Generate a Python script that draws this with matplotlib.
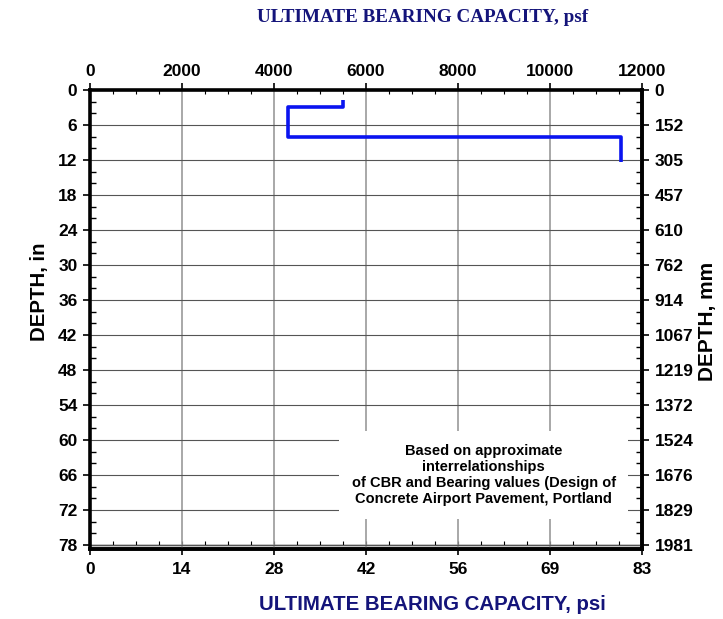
import matplotlib

matplotlib.use("Agg")
import matplotlib.pyplot as plt
from matplotlib.ticker import FixedLocator, MultipleLocator

# Bearing capacity profile (psf) vs depth (in)
depth_in = [1.7, 3.0, 3.0, 8.0, 8.0, 12.3]
capacity_psf = [5500, 5500, 4300, 4300, 11550, 11550]

psf_ticks = [0, 2000, 4000, 6000, 8000, 10000, 12000]
psi_labels = ["0", "14", "28", "42", "56", "69", "83"]
depth_ticks = [0, 6, 12, 18, 24, 30, 36, 42, 48, 54, 60, 66, 72, 78]
mm_labels = ["0", "152", "305", "457", "610", "762", "914", "1067", "1219",
             "1372", "1524", "1676", "1829", "1981"]

note = ("Based on approximate\ninterrelationships\n"
        "of CBR and Bearing values (Design of\n"
        "Concrete Airport Pavement, Portland")

NAVY = "#14147a"
Y_MAX = 78.7
TICK_FS = 12.5

plt.rcParams["font.family"] = ["Liberation Sans", "DejaVu Sans"]
plt.rcParams["font.weight"] = "bold"

fig = plt.figure(figsize=(7.23, 6.19), dpi=100)
ax = fig.add_axes([90 / 723, 1 - 549 / 619, 552 / 723, 459 / 619])

ax.plot(capacity_psf, depth_in, color="#0a14f0", linewidth=2.6, zorder=3,
        solid_capstyle="butt")

ax.set_xlim(0, 12000)
ax.set_ylim(Y_MAX, 0)

# psf on top
ax.xaxis.set_ticks_position("top")
ax.xaxis.set_label_position("top")
ax.set_xticks(psf_ticks)
ax.xaxis.set_minor_locator(MultipleLocator(500))
ax.tick_params(axis="x", which="major", direction="out", length=5, width=1.2,
               labelsize=TICK_FS, pad=3)
ax.tick_params(axis="x", which="minor", direction="in", length=3, width=0.8)

# depth in on the left
ax.set_yticks(depth_ticks)
ax.yaxis.set_minor_locator(MultipleLocator(2))
ax.tick_params(axis="y", which="major", direction="out", length=5, width=1.2,
               labelsize=TICK_FS, pad=4)
ax.tick_params(axis="y", which="minor", direction="in", length=4, width=1.0)

for s in ax.spines.values():
    s.set_linewidth(2.6)

ax.grid(True, axis="x", which="major", color="#9a9a9a", linewidth=1.2, zorder=1)
ax.grid(True, axis="y", which="major", color="#555555", linewidth=0.8, zorder=1)

# thin psf axis line at depth 78 with inward minor ticks
frac78 = (Y_MAX - 78) / Y_MAX
ax78 = ax.secondary_xaxis(frac78)
ax78.set_xticks(psf_ticks)
ax78.xaxis.set_minor_locator(MultipleLocator(500))
ax78.tick_params(which="both", direction="in", labelbottom=False, length=3,
                 width=0.8)
ax78.spines["bottom"].set_linewidth(1.0)

# psi on the bottom
axpsi = ax.secondary_xaxis("bottom", functions=(lambda x: x / 144.0,
                                                 lambda x: x * 144.0))
axpsi.set_xticks([v / 144.0 for v in psf_ticks])
axpsi.set_xticklabels(psi_labels)
axpsi.tick_params(direction="out", length=4, width=1.2, labelsize=TICK_FS,
                  pad=5)
axpsi.spines["bottom"].set_linewidth(2.6)

# mm on the right
axmm = ax.secondary_yaxis("right", functions=(lambda d: d * 25.4,
                                               lambda d: d / 25.4))
axmm.set_yticks([d * 25.4 for d in depth_ticks])
axmm.set_yticklabels(mm_labels)
axmm.yaxis.set_minor_locator(FixedLocator([d * 25.4 for d in range(0, 79, 2)]))
axmm.tick_params(which="major", direction="out", length=5, width=1.2,
                 labelsize=TICK_FS, pad=4)
axmm.tick_params(which="minor", direction="in", length=4, width=1.0)
axmm.spines["right"].set_linewidth(2.6)

ax.text(8560, 66.0, note, ha="center", va="center", fontsize=10.5,
        fontweight="bold", linespacing=1.2, zorder=4,
        bbox=dict(facecolor="white", edgecolor="none",
                  boxstyle="square,pad=0.85"))

fig.text(423 / 723, 1 - 18 / 619, "ULTIMATE BEARING CAPACITY, psf",
         ha="center", va="center", color=NAVY, fontsize=13.8,
         fontweight="bold", family="Liberation Serif")
fig.text(432 / 723, 1 - 604 / 619, "ULTIMATE BEARING CAPACITY, psi",
         ha="center", va="center", color=NAVY, fontsize=14.7, fontweight="bold")
fig.text(39 / 723, 1 - 292 / 619, "DEPTH, in", rotation=90,
         ha="center", va="center", fontsize=14.7, fontweight="bold")
fig.text(707 / 723, 1 - 321 / 619, "DEPTH, mm", rotation=90,
         ha="center", va="center", fontsize=15, fontweight="bold")

fig.savefig("out.png", dpi=100, facecolor="white")
